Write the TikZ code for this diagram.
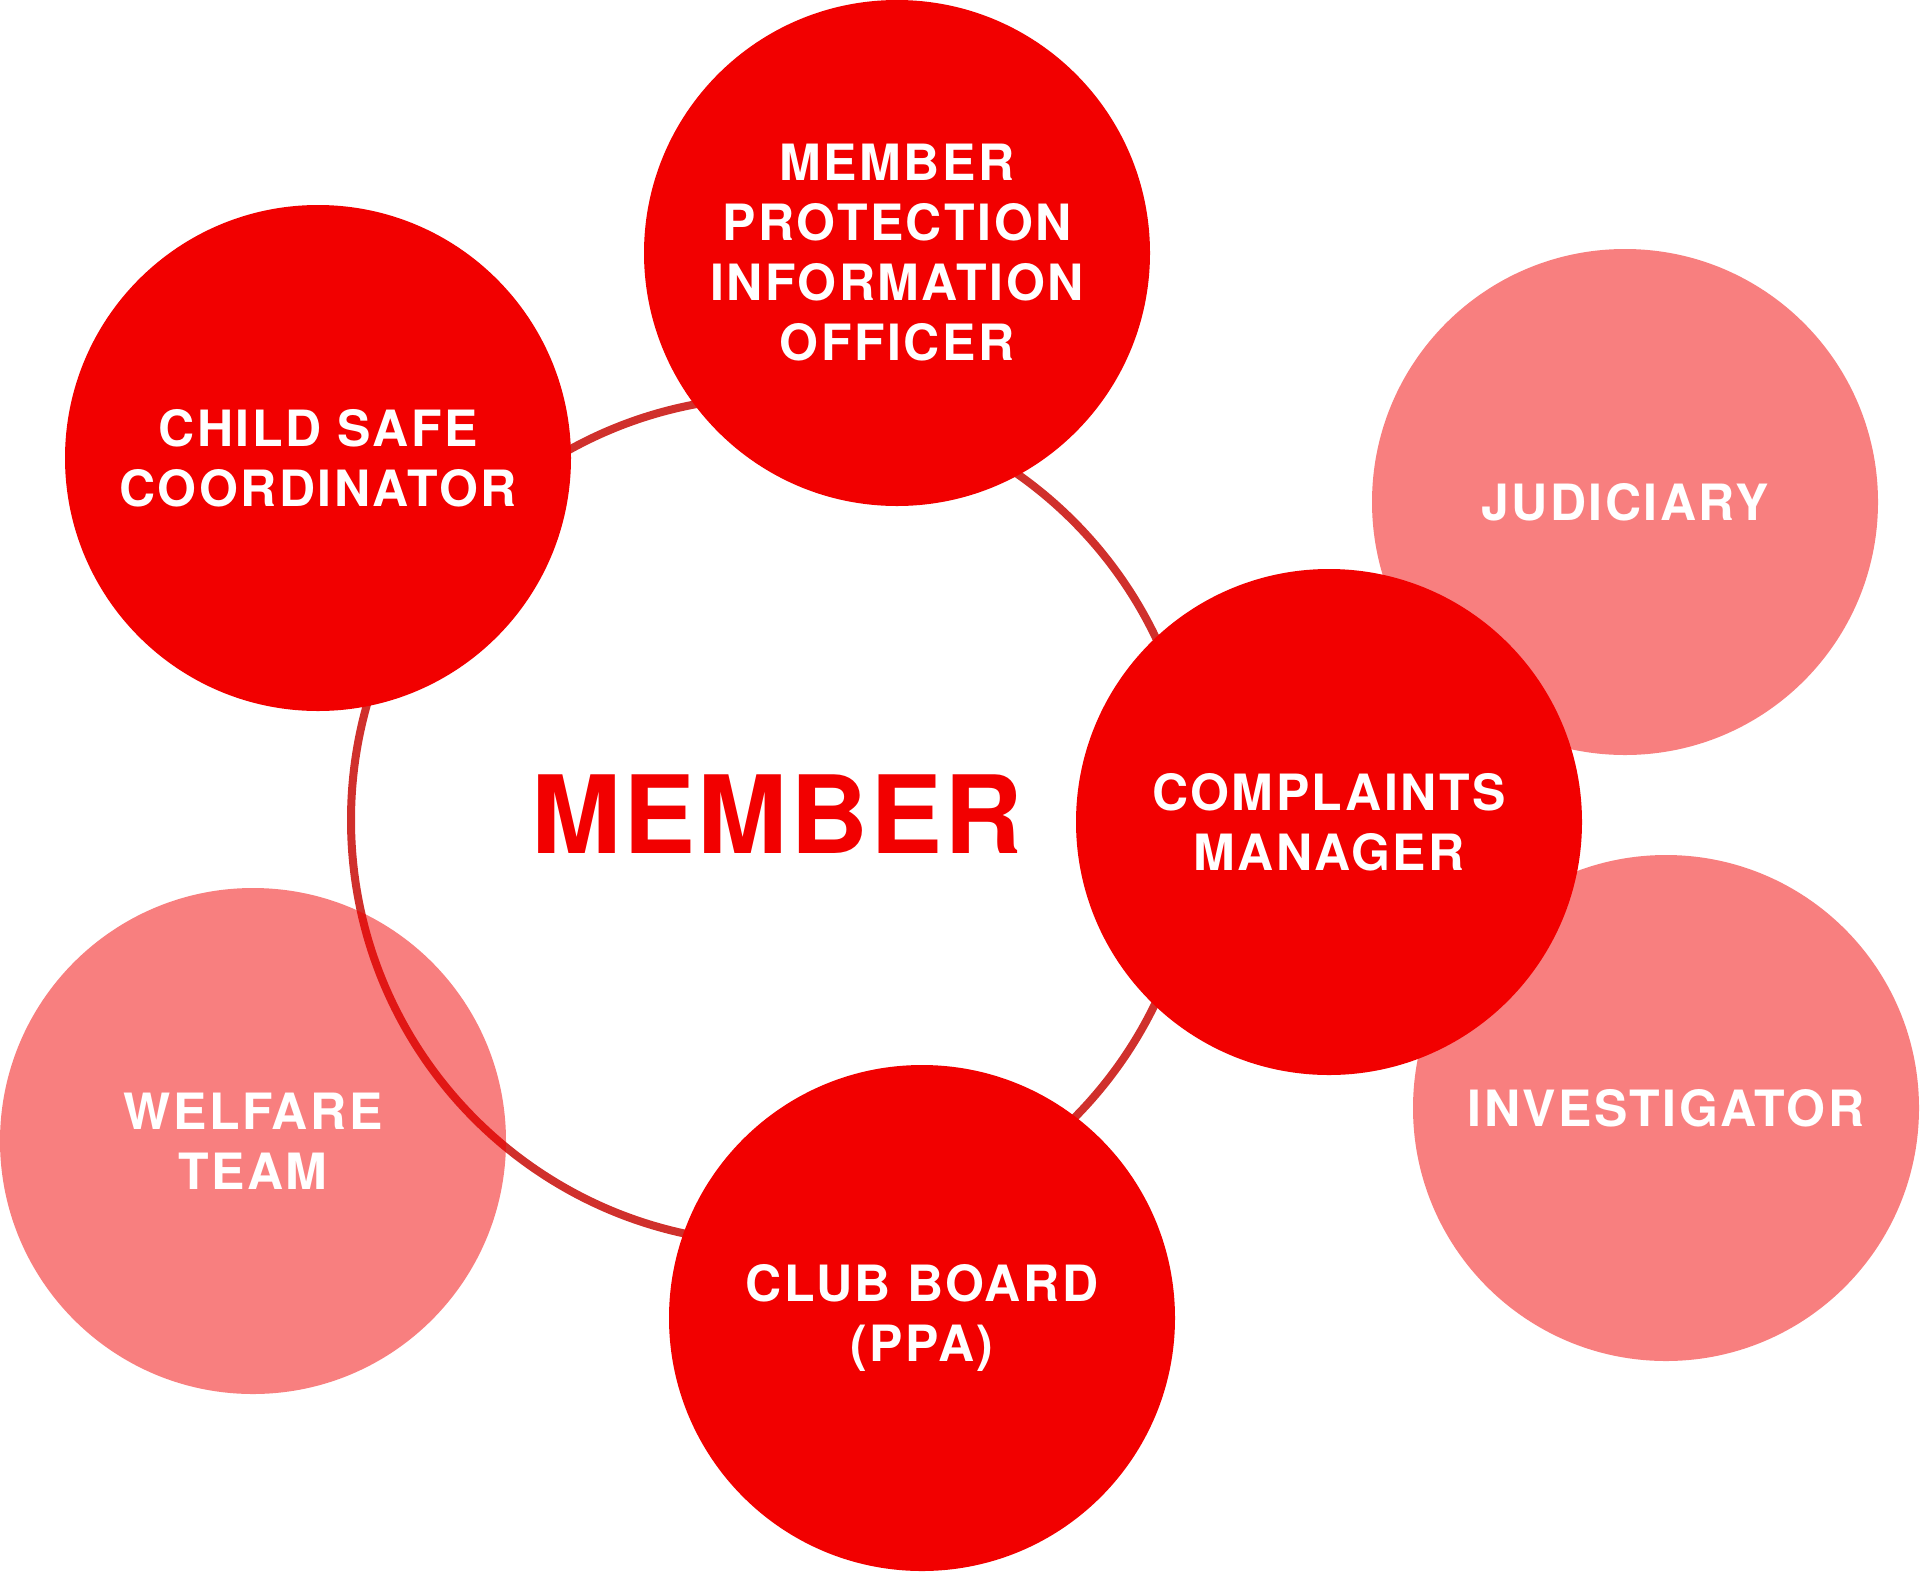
\documentclass[tikz,border=0pt]{standalone}
\usepackage{fontspec}
\setmainfont{TeX Gyre Heros}
\newfontfamily\lblfont[LetterSpace=5]{TeX Gyre Heros}
\newfontfamily\bigfont[LetterSpace=2.2]{TeX Gyre Heros}
\definecolor{mainred}{RGB}{242,0,0}
\definecolor{ringred}{RGB}{208,48,44}
\begin{document}
\begin{tikzpicture}[x=1pt,y=-1pt,
  bubble/.style={circle, minimum size=506pt, inner sep=0pt, align=center,
    text=white, font=\lblfont\bfseries\fontsize{50}{60}\selectfont},
  strongbub/.style={bubble, fill=mainred},
  softbub/.style={bubble, fill=mainred, fill opacity=0.5, text opacity=1},
  ringstyle/.style={circle, draw=ringred, line width=8pt, minimum size=846pt, inner sep=0pt}]
\useasboundingbox (0,0) rectangle (1920,1572);
% ring
\node[ringstyle] (ring) at (774,820) {};
% soft circles
\node[softbub] (jud) at (1625,502) {JUDICIARY};
\node[softbub] (inv) at (1666,1108) {INVESTIGATOR};
\node[softbub] (wt) at (253,1141) {WELFARE\\TEAM};
% strong circles
\node[strongbub] (mpio) at (897,253) {MEMBER\\PROTECTION\\INFORMATION\\OFFICER};
\node[strongbub] (csc) at (318,458) {CHILD SAFE\\COORDINATOR};
\node[strongbub] (cm) at (1329,822) {COMPLAINTS\\MANAGER};
\node[strongbub] (cb) at (922,1318) {CLUB BOARD\\(PPA)};
% centre label
\node[text=mainred, inner sep=0pt, font=\bigfont\bfseries\fontsize{108}{120}\selectfont] (member) at (777,814) {MEMBER};
\end{tikzpicture}
\end{document}
